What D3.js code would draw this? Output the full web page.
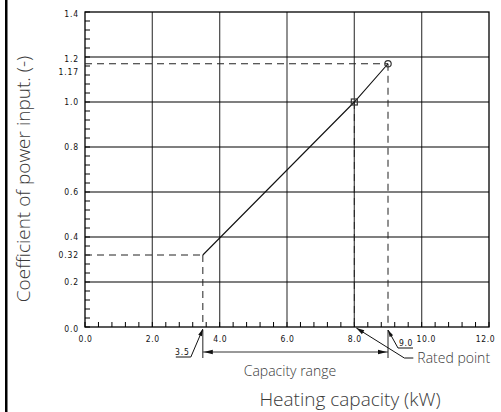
<!DOCTYPE html>
<html><head><meta charset="utf-8">
<script src="https://cdn.jsdelivr.net/npm/d3@7"></script>
<style>
body{margin:0;background:#fff;}
.tick-lbl{font-family:"DejaVu Sans Condensed","DejaVu Sans",sans-serif;font-size:8.5px;fill:#111;}
.title{font-family:"Open Sans",sans-serif;font-weight:300;fill:#3a3a3a;}
</style></head>
<body><svg id="c" width="501" height="412"></svg>
<script>
// data
const curveX = [3.5, 8.0, 9.0];
const curveY = [0.32, 1.0, 1.17];
const ratedX = 8.0, ratedY = 1.0;
const maxX = 9.0, maxY = 1.17;
const minX = 3.5, minY = 0.32;
const yTickValues = [0.0, 0.2, 0.32, 0.4, 0.6, 0.8, 1.0, 1.17, 1.2, 1.4];
const yTickLabels = ["0.0","0.2","0.32","0.4","0.6","0.8","1.0","1.17","1.2","1.4"];
const xTickValues = [0, 2, 4, 6, 8, 10, 12];
const xTickLabels = ["0.0","2.0","4.0","6.0","8.0","10.0","12.0"];
const hGrid = [0.2, 0.4, 0.6, 0.8, 1.0, 1.2];
const vGrid = [2, 4, 6, 8, 10];

const svg = d3.select("#c");
const x = d3.scaleLinear().domain([0, 12]).range([85, 489]);
const y = d3.scaleLinear().domain([0, 1.4]).range([327, 12]);

// left black bar
svg.append("rect").attr("x",5).attr("y",0).attr("width",2.5).attr("height",412).attr("fill","#000");

// grid
svg.selectAll(".vg").data(vGrid).join("line")
  .attr("x1",d=>x(d)).attr("x2",d=>x(d)).attr("y1",y(0)).attr("y2",y(1.4))
  .attr("stroke","#555").attr("stroke-width",1.3);
svg.selectAll(".hg").data(hGrid).join("line")
  .attr("x1",x(0)).attr("x2",x(12)).attr("y1",d=>y(d)).attr("y2",d=>y(d))
  .attr("stroke","#000").attr("stroke-width",1.1);

// minor ticks
const yMinor = d3.range(0, 1.4001, 0.04);
const xMinor = d3.range(0, 12.001, 0.4);
svg.selectAll(".ym").data(yMinor).join("line")
  .attr("x1",x(0)).attr("x2",x(0)+5).attr("y1",d=>y(d)).attr("y2",d=>y(d))
  .attr("stroke","#000").attr("stroke-width",1);
svg.selectAll(".xm").data(xMinor).join("line")
  .attr("x1",d=>x(d)).attr("x2",d=>x(d)).attr("y1",y(0)).attr("y2",y(0)-5)
  .attr("stroke","#000").attr("stroke-width",1);

// border
svg.append("rect").attr("x",x(0)).attr("y",y(1.4)).attr("width",x(12)-x(0)).attr("height",y(0)-y(1.4))
  .attr("fill","none").attr("stroke","#000").attr("stroke-width",1.3);

// axes labels via d3 axes
const yAxis = d3.axisLeft(y).tickValues(yTickValues).tickSize(0).tickPadding(6)
  .tickFormat((d,i)=>yTickLabels[i]);
const gy = svg.append("g").attr("transform",`translate(${x(0)},0)`).call(yAxis);
gy.select(".domain").remove();
gy.selectAll("text").attr("class","tick-lbl").attr("font-family",null).attr("font-size",null)
  .attr("letter-spacing","0.9px")
  .attr("dy",(d)=> d===1.17 ? "1.25em" : (d===1.2||d===1.4||d===0) ? "0.55em" : "0.35em");
const xAxis = d3.axisBottom(x).tickValues(xTickValues).tickSize(0).tickPadding(9)
  .tickFormat((d,i)=>xTickLabels[i]);
const gx = svg.append("g").attr("transform",`translate(0,${y(0)})`).call(xAxis);
gx.select(".domain").remove();
gx.selectAll("text").attr("class","tick-lbl").attr("font-family",null).attr("font-size",null)
  .attr("letter-spacing","0.6px")
  .attr("dx",d=> d===10 ? 4 : (d===12 ? -4 : 0));

// dashed reference lines
const dash = "7,5";
function dl(x1,y1,x2,y2){
  svg.append("line").attr("x1",x1).attr("y1",y1).attr("x2",x2).attr("y2",y2)
    .attr("stroke","#222").attr("stroke-width",1).attr("stroke-dasharray",dash);
}
dl(x(0), y(minY), x(minX), y(minY));
dl(x(minX), y(minY), x(minX), y(0));
dl(x(0), y(maxY), x(maxX), y(maxY));
dl(x(maxX), y(maxY), x(maxX), y(0));
dl(x(ratedX), y(ratedY), x(ratedX), y(0));
// solid extensions below axis
[minX, maxX].forEach(v=>{
  svg.append("line").attr("x1",x(v)).attr("x2",x(v)).attr("y1",y(0)+3).attr("y2",y(0)+31)
    .attr("stroke","#222").attr("stroke-width",1);
});

// curve
const line = d3.line().x(d=>x(d[0])).y(d=>y(d[1]));
svg.append("path").datum(d3.zip(curveX, curveY)).attr("d",line)
  .attr("fill","none").attr("stroke","#111").attr("stroke-width",1.1);
// markers
svg.append("rect").attr("x",x(ratedX)-3).attr("y",y(ratedY)-3).attr("width",6).attr("height",6)
  .attr("fill","none").attr("stroke","#333").attr("stroke-width",1.2);
svg.append("circle").attr("cx",x(maxX)).attr("cy",y(maxY)).attr("r",3.2)
  .attr("fill","none").attr("stroke","#333").attr("stroke-width",1.2);

// arrow helper
function arrowHead(tx,ty,fx,fy,len=7,w=2.5){
  const a = Math.atan2(ty-fy, tx-fx);
  const bx = tx - len*Math.cos(a), by = ty - len*Math.sin(a);
  const px = -Math.sin(a)*w, py = Math.cos(a)*w;
  svg.append("path").attr("d",`M${tx},${ty}L${bx+px},${by+py}L${bx-px},${by-py}Z`).attr("fill","#111");
}
// capacity range arrow
const ay = y(0)+25;
svg.append("line").attr("x1",x(minX)).attr("x2",x(maxX)).attr("y1",ay).attr("y2",ay).attr("stroke","#333").attr("stroke-width",1);
arrowHead(x(minX)+1, ay, x(minX)+20, ay, 9, 2.2);
arrowHead(x(maxX)-1, ay, x(maxX)-20, ay, 9, 2.2);
svg.append("text").attr("class","title").attr("x",290).attr("y",y(0)+49)
  .attr("text-anchor","middle").attr("font-size",14).text("Capacity range");

// 3.5 leader
const l35 = {tx:x(minX), ty:y(0)+2, bx:x(minX)-12, by:y(0)+30};
svg.append("line").attr("x1",l35.tx).attr("y1",l35.ty).attr("x2",l35.bx).attr("y2",l35.by).attr("stroke","#111").attr("stroke-width",1);
arrowHead(l35.tx,l35.ty,l35.bx,l35.by,7,2);
svg.append("line").attr("x1",l35.bx-15).attr("x2",l35.bx).attr("y1",l35.by).attr("y2",l35.by).attr("stroke","#111").attr("stroke-width",1);
svg.append("text").attr("class","tick-lbl").attr("x",l35.bx-1).attr("y",l35.by-2).attr("text-anchor","end").attr("letter-spacing","0.9px").text("3.5");

// 9.0 leader
const l90 = {tx:x(maxX), ty:y(0)+3, bx:x(maxX)+10, by:y(0)+21};
svg.append("line").attr("x1",l90.tx).attr("y1",l90.ty).attr("x2",l90.bx).attr("y2",l90.by).attr("stroke","#111").attr("stroke-width",1);
arrowHead(l90.tx,l90.ty,l90.bx,l90.by,7,2);
svg.append("line").attr("x1",l90.bx).attr("x2",l90.bx+15).attr("y1",l90.by).attr("y2",l90.by).attr("stroke","#111").attr("stroke-width",1);
svg.append("text").attr("class","tick-lbl").attr("x",l90.bx+1).attr("y",l90.by-2).attr("letter-spacing","0.6px").text("9.0");

// Rated point leader
const lr = {tx:x(ratedX)+2, ty:y(0)+1, bx:x(ratedX)+50, by:y(0)+31};
svg.append("line").attr("x1",lr.tx).attr("y1",lr.ty).attr("x2",lr.bx).attr("y2",lr.by).attr("stroke","#111").attr("stroke-width",1);
arrowHead(lr.tx,lr.ty,lr.bx,lr.by,8,2.3);
svg.append("line").attr("x1",lr.bx).attr("x2",lr.bx+9).attr("y1",lr.by).attr("y2",lr.by).attr("stroke","#111").attr("stroke-width",1);
svg.append("text").attr("class","title").attr("x",lr.bx+13).attr("y",lr.by+5)
  .attr("font-size",14).text("Rated point");

// axis titles
svg.append("text").attr("class","title").attr("transform","translate(30,179) rotate(-90)")
  .attr("text-anchor","middle").attr("font-size",19).text("Coefficient of power input. (-)");
svg.append("text").attr("class","title").attr("x",350).attr("y",406)
  .attr("text-anchor","middle").attr("font-size",19).text("Heating capacity (kW)");
</script></body></html>
